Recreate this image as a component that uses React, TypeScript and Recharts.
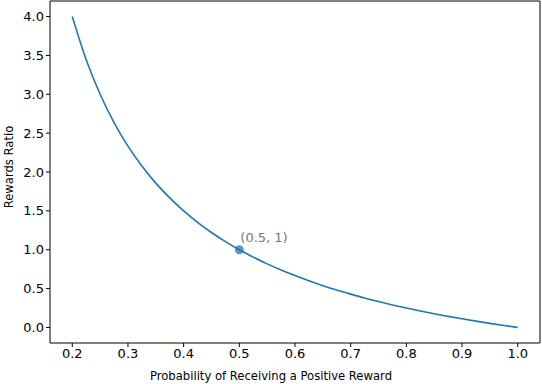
import React from 'react'
import {
  LineChart, Line, XAxis, YAxis, ReferenceDot, ReferenceLine,
} from 'recharts'

// probability of a positive reward vs. rewards ratio
const probs = [
  0.2, 0.225, 0.25, 0.275, 0.3, 0.325, 0.35, 0.375, 0.4, 0.425, 0.45, 0.475, 0.5,
  0.525, 0.55, 0.575, 0.6, 0.625, 0.65, 0.675, 0.7, 0.725, 0.75, 0.775, 0.8,
  0.825, 0.85, 0.875, 0.9, 0.925, 0.95, 0.975, 1.0,
]
const ratios = [
  4.0, 3.444, 3.0, 2.636, 2.333, 2.077, 1.857, 1.667, 1.5, 1.353, 1.222, 1.105, 1.0,
  0.905, 0.818, 0.739, 0.667, 0.6, 0.538, 0.481, 0.429, 0.379, 0.333, 0.29, 0.25,
  0.212, 0.176, 0.143, 0.111, 0.081, 0.053, 0.026, 0.0,
]
const xTicks = [0.2, 0.3, 0.4, 0.5, 0.6, 0.7, 0.8, 0.9, 1.0]
const yTicks = [0, 0.5, 1, 1.5, 2, 2.5, 3, 3.5, 4]
const marked = { p: 0.5, ratio: 1, label: '(0.5, 1)' }

const data = probs.map((p, i) => ({ p, ratio: ratios[i] }))

const font = 'DejaVu Sans'
const tick = { fontSize: 13, fontFamily: font, fill: '#000' }

export default function App() {
  return (
    <>
      <style>{'body{margin:0}'}</style>
      <LineChart width={542} height={384} data={data} margin={{ top: 1, right: 2, left: 0, bottom: 0 }}>
        <XAxis
          dataKey="p" type="number" domain={[0.16, 1.04]} ticks={xTicks}
          tickFormatter={(v: number) => v.toFixed(1)}
          tick={tick} tickSize={4} tickLine={{ stroke: '#000' }} axisLine={{ stroke: '#000' }}
          height={41}
          label={{
            content: () => (
              <text x={271} y={380} textAnchor="middle" fontSize={11.6} fontFamily={font} fill="#000">
                Probability of Receiving a Positive Reward
              </text>
            ),
          }}
        />
        <YAxis
          type="number" domain={[-0.2, 4.2]} ticks={yTicks}
          tickFormatter={(v: number) => v.toFixed(1)}
          tick={tick} tickSize={4} tickLine={{ stroke: '#000' }} axisLine={{ stroke: '#000' }}
          width={50}
          label={{
            content: () => (
              <text x={9} y={167} transform="rotate(-90 9 167)" textAnchor="middle" dominantBaseline="central" fontSize={11.6} fontFamily={font} fill="#000">
                Rewards Ratio
              </text>
            ),
          }}
        />
        <ReferenceLine y={4.2} stroke="#000" ifOverflow="visible" />
        <ReferenceLine x={1.04} stroke="#000" ifOverflow="visible" />
        <Line dataKey="ratio" type="monotone" stroke="#1f77b4" strokeWidth={1.6} dot={false} isAnimationActive={false} />
        <ReferenceDot
          x={marked.p} y={marked.ratio} r={4.5} fill="#1f77b4" fillOpacity={0.75} stroke="none"
          label={{
            content: (props: any) => {
              const vb = props.viewBox || {}
              const cx = (vb.x ?? 0) + (vb.width ?? 0) / 2
              const cy = (vb.y ?? 0) + (vb.height ?? 0) / 2
              return <text x={cx + 1} y={cy - 8} fontSize={13} fontFamily={font} fill="#777">{marked.label}</text>
            },
          }}
        />
      </LineChart>
    </>
  )
}
